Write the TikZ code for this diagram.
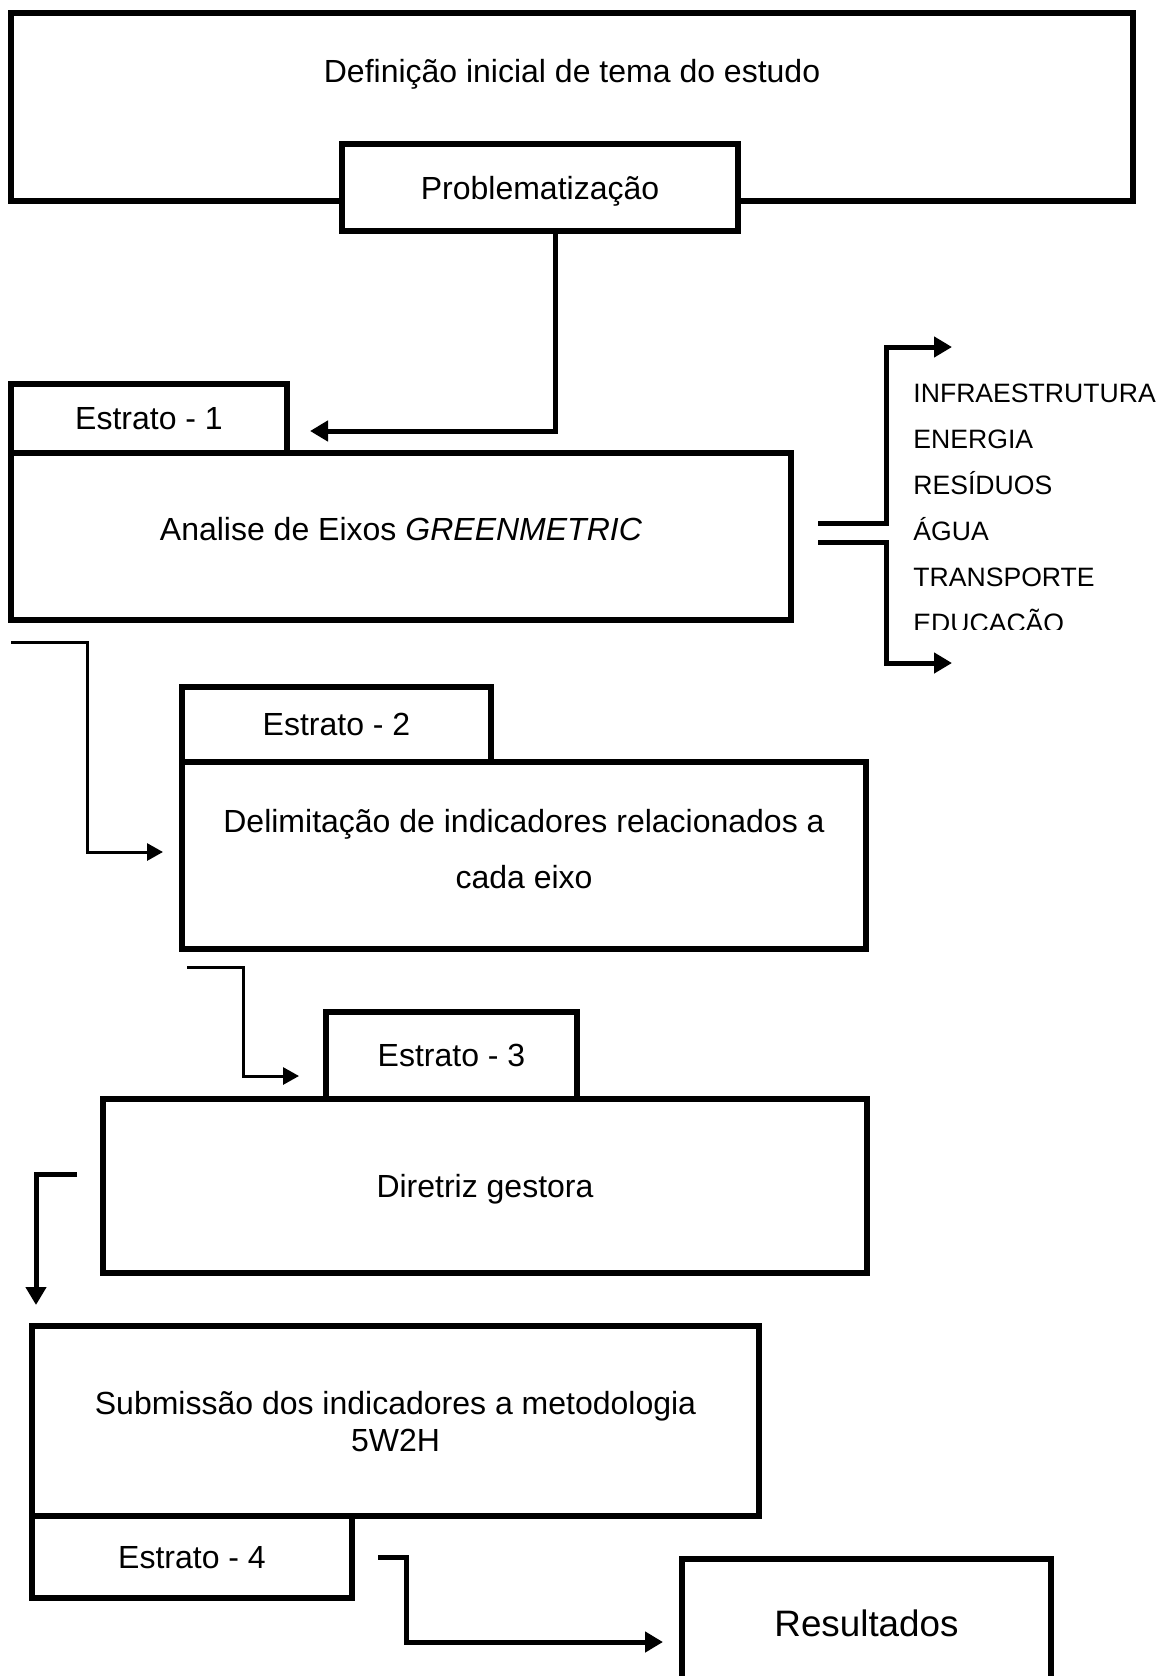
\documentclass[tikz,border=0pt]{standalone}
\usepackage{fontspec}
\setmainfont{Liberation Sans}
\usepackage{tikz}
\usetikzlibrary{positioning,arrows.meta,calc}
\tikzset{
    box/.style={
        rectangle,
        draw=black,
        fill=white,
        line width=2.7pt,
        outer sep=0pt,
        inner sep=0pt,
        align=center,
        text depth=0pt,
        font=\fontsize{16}{19}\selectfont
    },
    txt/.style={
        inner sep=0pt,
        font=\fontsize{16}{19}\selectfont
    },
    arr/.style={-{Triangle[length=9pt,width=10pt]},line width=2.5pt},
    tarr/.style={-{Triangle[length=8pt,width=8.5pt]},line width=1.5pt}
}

\begin{document}
\begin{tikzpicture}[x=0.5pt,y=-0.5pt]
\useasboundingbox (0,0) rectangle (1161,1676);
\clip (0,0) rectangle (1161,1676);

\node[box,minimum width=561pt,minimum height=94pt] (def) at (572,107) {};
\node[txt] (deftxt) at (572,74) {Definição inicial de tema do estudo};
\node[box,minimum width=198pt,minimum height=43.5pt] (prob) at (540,187.5) {Problematização};

\node[box,minimum width=390pt,minimum height=83.5pt,text depth=8pt] (analise) at (401,536.5) {Analise de Eixos \textit{GREENMETRIC}};
\node[box,minimum width=138pt,minimum height=34.5pt] (e1) at (149,418.5) {Estrato - 1};

\begin{scope}
\clip (890,330) rectangle (1161,629);
\node[txt,anchor=north west,align=left,font=\fontsize{13.3}{23}\selectfont] (eixos) at (913,383.5)
    {INFRAESTRUTURA\\ENERGIA\\RESÍDUOS\\ÁGUA\\TRANSPORTE\\EDUCAÇÃO};
\end{scope}

\node[box,minimum width=342pt,minimum height=93.5pt,text depth=6.5pt,font=\fontsize{16}{28}\selectfont] (delim) at (524,855.5)
    {Delimitação de indicadores relacionados a\\cada eixo};
\node[box,minimum width=154.5pt,minimum height=37.5pt] (e2) at (336.5,724.5) {Estrato - 2};

\node[box,minimum width=382pt,minimum height=87pt] (dir) at (485,1186) {Diretriz gestora};
\node[box,minimum width=125.5pt,minimum height=43.5pt] (e3) at (451.5,1055.5) {Estrato - 3};

\node[box,minimum width=363.5pt,minimum height=95pt,font=\fontsize{16}{18.5}\selectfont] (sub) at (395.5,1421)
    {Submissão dos indicadores a metodologia\\5W2H};
\node[box,minimum width=160pt,minimum height=41pt] (e4) at (192,1557) {Estrato - 4};

\node[box,minimum width=184.5pt,minimum height=64pt,font=\fontsize{18.4}{22}\selectfont] (res) at (866.5,1623) {Resultados};

\coordinate (p1) at (310,431);
\coordinate (eixoup) at (952,347);
\coordinate (eixodown) at (952,663);
\coordinate (subtip) at (36,1305);

\draw[arr] ([xshift=7.5pt]prob.south) |- (p1);
\draw[arr] ([xshift=13.5pt,yshift=6.75pt]analise.east) -- ++(34pt,0) |- (eixoup);
\draw[arr] ([xshift=13.5pt,yshift=-2.75pt]analise.east) -- ++(34pt,0) |- (eixodown);
\draw[tarr] ([yshift=-11pt]analise.south west) -- ++(38pt,0) |- ([xshift=-9.5pt,yshift=1.75pt]delim.west);
\draw[tarr] ([xshift=2.5pt,yshift=-9pt]delim.south west) -- ++(28pt,0) |- ([xshift=-13.5pt,yshift=-10.25pt]e3.west);
\draw[arr] ([xshift=-13pt,yshift=6pt]dir.west) -| (subtip);
\draw[arr] ([xshift=13pt]e4.east) -- ++(14pt,0) |- ([xshift=-9.5pt,yshift=-9.5pt]res.west);
\end{tikzpicture}
\end{document}
